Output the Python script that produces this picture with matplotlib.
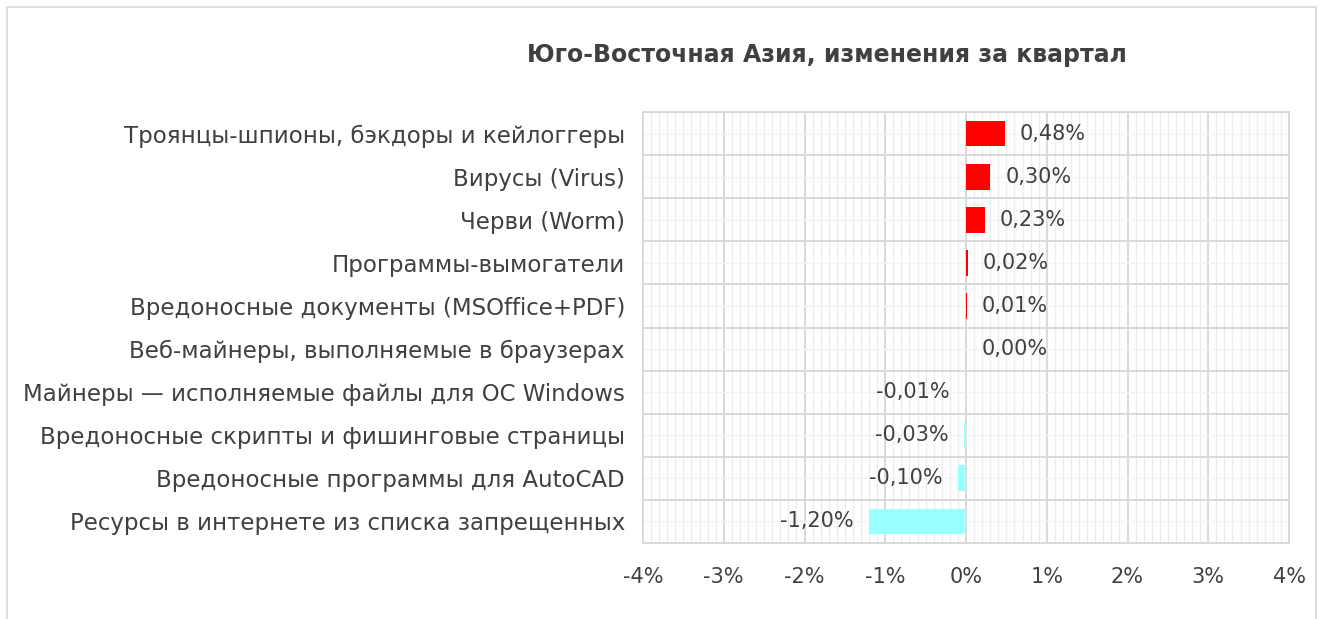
import matplotlib.pyplot as plt
from matplotlib.patches import Rectangle
from matplotlib.ticker import MultipleLocator, FuncFormatter

# Данные (сверху вниз)
categories = [
    "Троянцы-шпионы, бэкдоры и кейлоггеры",
    "Вирусы (Virus)",
    "Черви (Worm)",
    "Программы-вымогатели",
    "Вредоносные документы (MSOffice+PDF)",
    "Веб-майнеры, выполняемые в браузерах",
    "Майнеры — исполняемые файлы для ОС Windows",
    "Вредоносные скрипты и фишинговые страницы",
    "Вредоносные программы для AutoCAD",
    "Ресурсы в интернете из списка запрещенных",
]
changes = [0.48, 0.30, 0.23, 0.02, 0.01, 0.00, -0.01, -0.03, -0.10, -1.20]
x_ticks = [-4, -3, -2, -1, 0, 1, 2, 3, 4]

TEXT = "#404040"
plt.rcParams["font.family"] = ["DejaVu Sans"]

fig = plt.figure(figsize=(13.23, 6.19), dpi=100)
fig.patches.append(Rectangle((7 / 1323, -0.01), 1309 / 1323, 1 - 7 / 619 + 0.01,
                             transform=fig.transFigure, fill=False,
                             edgecolor="#D9D9D9", linewidth=1.2))

ax = fig.add_axes([643 / 1323, 1 - 543 / 619, (1289 - 643) / 1323, (543 - 112) / 619])

n = len(categories)
ypos = list(range(n))
colors = ["#FF0000" if v > 0 else "#99FFFF" for v in changes]
ax.barh(ypos, changes, height=0.6, color=colors, zorder=3)

for y, v in zip(ypos, changes):
    label = f"{v:.2f}%".replace(".", ",")
    if v < 0:
        ax.annotate(label, (v, y), xytext=(-11, 0), textcoords="offset points",
                    ha="right", va="center", fontsize=15, color=TEXT, zorder=4)
    else:
        ax.annotate(label, (v, y), xytext=(11, 0), textcoords="offset points",
                    ha="left", va="center", fontsize=15, color=TEXT, zorder=4)

ax.set_xlim(-4, 4)
ax.set_ylim(n - 0.5, -0.5)
ax.set_xticks(x_ticks)
ax.xaxis.set_major_formatter(FuncFormatter(lambda x, _: f"{x:.0f}%"))
ax.xaxis.set_minor_locator(MultipleLocator(0.1))
ax.set_yticks(ypos)
ax.set_yticklabels(categories)
ax.set_yticks([i + 0.5 for i in range(-1, n)], minor=True)

ax.grid(axis="x", which="major", color="#D9D9D9", linewidth=1.4, zorder=1)
ax.grid(axis="x", which="minor", color="#EDEDED", linewidth=1.0, zorder=0)
ax.grid(axis="y", which="minor", color="#D9D9D9", linewidth=1.4, zorder=1)
ax.grid(axis="y", which="major", color="#F2F2F2", linewidth=1.0, zorder=0)
ax.set_axisbelow(True)

ax.tick_params(axis="both", which="both", length=0)
ax.tick_params(axis="x", labelsize=15, labelcolor=TEXT, pad=17)
ax.tick_params(axis="y", labelsize=16.5, labelcolor=TEXT, pad=13)
for s in ax.spines.values():
    s.set_color("#D9D9D9")
    s.set_linewidth(1.4)

fig.text(827 / 1323, 1 - 55 / 619, "Юго-Восточная Азия, изменения за квартал",
         ha="center", va="center", fontsize=17, fontweight="bold", color=TEXT)

fig.savefig("out.png", dpi=100)
